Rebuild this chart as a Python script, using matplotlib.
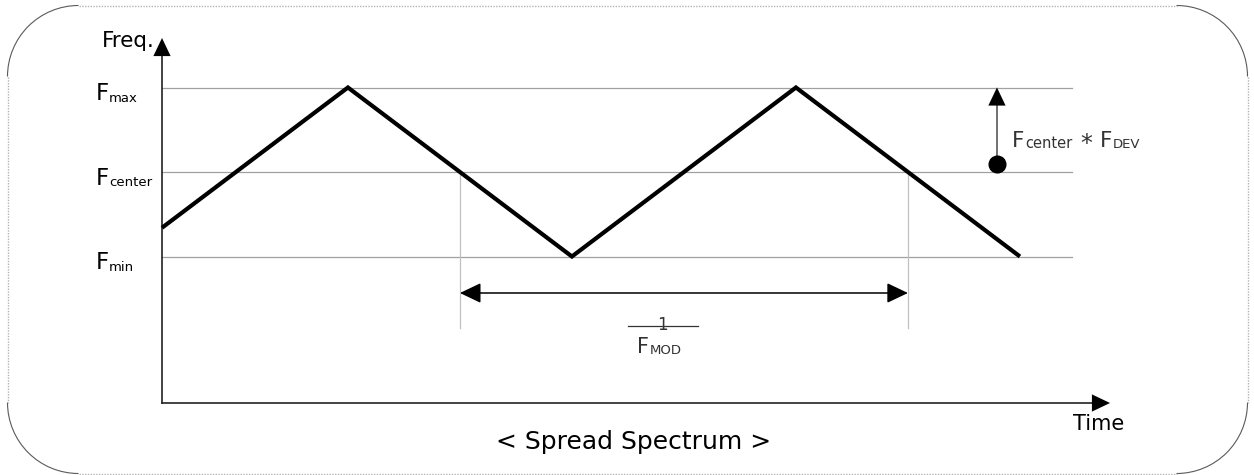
import matplotlib
matplotlib.use("Agg")
import matplotlib.pyplot as plt
from matplotlib.patches import Arc

# ---------------- data ----------------
level_subs = ["max", "center", "min"]
level_freqs = [1.10, 1.00, 0.90]
wave_t = [0.0, 1.66, 3.66, 5.66, 7.66]
wave_f = [0.934, 1.10, 0.90, 1.10, 0.90]
period_t = [2.66, 6.66]          # two successive descending crossings of Fcenter
dev_t = 7.455                    # position of the deviation arrow
f_center = 1.00
f_max = 1.10

W, H = 1254, 475
fig = plt.figure(figsize=(W / 100, H / 100), dpi=100)

# frame axes in pixel space
fr = fig.add_axes([0, 0, 1, 1])
fr.set_xlim(0, W)
fr.set_ylim(H, 0)
fr.axis("off")

# data axes (time / frequency)
ax = fig.add_axes([0, 0, 1, 1])
ax.patch.set_alpha(0)
ax.axis("off")
x0, sx = 162, 112.0
y0, sy = 172, 845.0
ax.set_xlim(-x0 / sx, (W - x0) / sx)
ax.set_ylim(1 + (y0 - H) / sy, 1 + y0 / sy)

def T(px):
    return (px - x0) / sx

def Fq(py):
    return 1 + (y0 - py) / sy

# ---- rounded frame ----
r = 71
L, R, Tp, B = 7.5, 1247.5, 5.5, 473.5
dot = dict(color="#b4b4b4", lw=1.0, linestyle=(0, (1, 1)))
fr.plot([L + r, R - r], [Tp, Tp], **dot)
fr.plot([L + r, R - r], [B, B], **dot)
fr.plot([L, L], [Tp + r, B - r], **dot)
fr.plot([R, R], [Tp + r, B - r], **dot)
for (cx, cy, a1, a2) in [(L + r, Tp + r, 180, 270), (R - r, Tp + r, 270, 360),
                         (R - r, B - r, 0, 90), (L + r, B - r, 90, 180)]:
    fr.add_patch(Arc((cx, cy), 2 * r, 2 * r, theta1=a1, theta2=a2,
                     color="#5a5a5a", lw=0.8))

# ---- guide lines ----
for f in level_freqs:
    ax.plot([0, T(1072)], [f, f], color="#a0a0a0", lw=0.9, zorder=1)
for t in period_t:
    ax.plot([t, t], [f_center, Fq(328)], color="#c0c0c0", lw=0.9, zorder=1)

# ---- axes with arrows ----
ax.plot([0, 0], [Fq(403), Fq(55)], color="#222222", lw=1.2, zorder=3)
ax.plot([0, T(1095)], [Fq(403), Fq(403)], color="#222222", lw=1.2, zorder=3)
head = "-|>,head_length=1.3,head_width=0.62"
def head_only(xy, xytext):
    ax.annotate("", xy=xy, xytext=xytext,
                arrowprops=dict(arrowstyle=head, mutation_scale=10, lw=0.01,
                                color="black", shrinkA=0, shrinkB=0),
                zorder=6)
head_only((0, Fq(38)), (0, Fq(60)))
head_only((T(1110), Fq(403)), (T(1088), Fq(403)))

# ---- waveform ----
ax.plot(wave_t, wave_f, color="black", lw=3.0, solid_joinstyle="miter",
        solid_capstyle="butt", zorder=4)

# ---- period double arrow ----
y_arr = Fq(293)
ax.annotate("", xy=(period_t[1], y_arr), xytext=(period_t[0], y_arr),
            arrowprops=dict(arrowstyle="<|-|>,head_length=1.3,head_width=0.62",
                            mutation_scale=10, lw=1.1, color="black",
                            shrinkA=0, shrinkB=0))
# 1 / F_MOD
ax.plot([T(628), T(698)], [Fq(326), Fq(326)], color="#333333", lw=0.9)
ax.text(T(662), Fq(330), "1", fontsize=12, color="#333333",
        ha="center", va="baseline")
ax.text(T(637), Fq(353), "F", fontsize=15, color="#333333",
        ha="left", va="baseline")
ax.text(T(650), Fq(354), "MOD", fontsize=9.5, color="#333333",
        ha="left", va="baseline")

# ---- deviation arrow ----
ax.plot([dev_t, dev_t], [f_center + 0.01, Fq(100)], color="#666666", lw=1.3,
        zorder=4)
head_only((dev_t, f_max), (dev_t, Fq(110)))
ax.plot([dev_t], [f_center + 0.0095], marker="o", ms=12, color="black",
        zorder=5)
ax.text(T(1012), Fq(147), "F", fontsize=15.5, color="#333333", va="baseline")
ax.text(T(1025), Fq(148), "center", fontsize=10.5, color="#333333",
        va="baseline")
ax.text(T(1086), Fq(151), "*", fontsize=17, color="#333333", va="baseline",
        ha="center")
ax.text(T(1100), Fq(147), "F", fontsize=15.5, color="#333333", va="baseline")
ax.text(T(1113), Fq(148), "DEV", fontsize=9.5, color="#333333", va="baseline")

# ---- labels ----
ax.text(T(155), Fq(47), "Freq.", fontsize=15.5, ha="right", va="baseline")
for sub, f in zip(level_subs, level_freqs):
    py = 172 - (f - 1) * sy
    ax.text(T(96), Fq(py + 12.5), "F", fontsize=16.5, va="baseline")
    ax.text(T(109), Fq(py + 14), sub, fontsize=9.5, va="baseline")

ax.text(T(1099), Fq(430), "Time", fontsize=15, ha="center", va="baseline")
ax.text(T(634), Fq(449), "< Spread Spectrum >", fontsize=18, ha="center",
        va="baseline")

fig.savefig("out.png", dpi=100)
